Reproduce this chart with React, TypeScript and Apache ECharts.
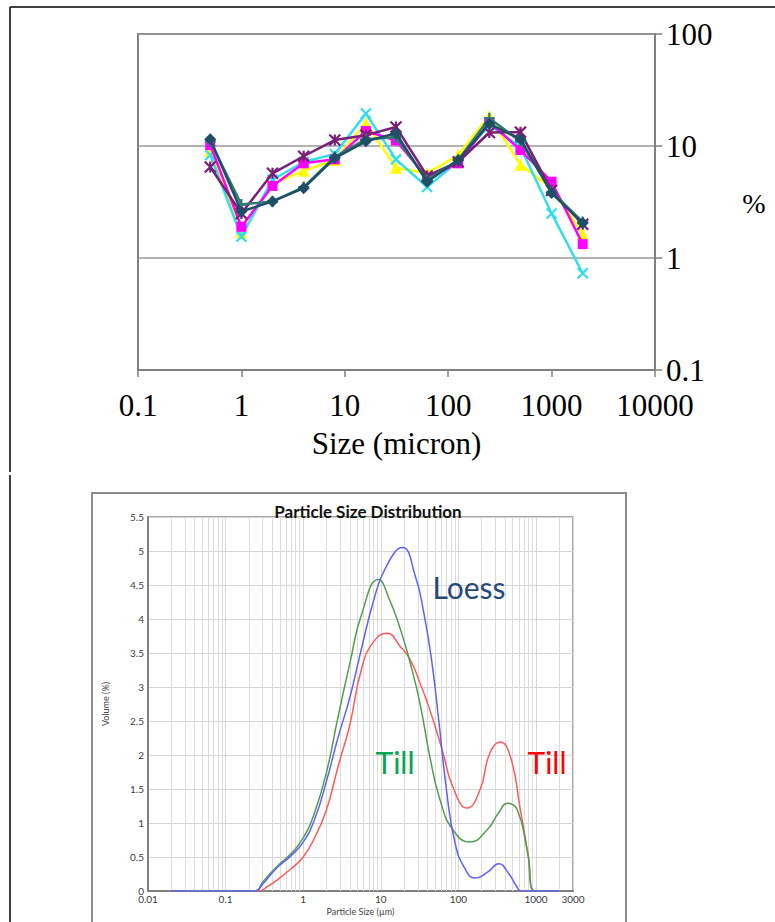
import React, { useEffect, useRef } from "react";
import * as echarts from "echarts";

// ---------- Top chart: size classes (micron) and % per class ----------
const sieveSizes = [0.5, 1, 2, 4, 8, 16, 31.25, 62.5, 125, 250, 500, 1000, 2000];
const seriesDiamond = [11.5, 2.6, 3.2, 4.2, 7.8, 11.0, 13.0, 4.8, 7.5, 15.8, 11.5, 3.8, 2.05];
const seriesPlus = [11.0, 3.0, 3.2, 4.3, 8.0, 11.5, 12.0, 5.0, 7.5, 17.7, 11.0, 3.9, 2.1];
const seriesSquare = [10.2, 1.9, 4.4, 7.0, 7.6, 13.6, 11.2, 5.2, 7.0, 16.3, 9.2, 4.8, 1.33];
const seriesTriangle = [9.0, 1.7, 4.6, 6.0, 7.5, 16.0, 6.4, 5.7, 8.3, 18.5, 6.8, 4.2, 1.64];
const seriesCross = [8.3, 1.55, 5.0, 7.2, 8.5, 19.5, 7.6, 4.3, 7.3, 15.4, 9.8, 2.5, 0.73];
const seriesStar = [6.5, 2.5, 5.7, 8.1, 11.3, 12.5, 14.8, 5.4, 7.2, 13.2, 13.3, 4.0, 2.0];

// ---------- Bottom chart: particle size distribution (volume %) ----------
const loessSizes = [0.02, 0.24, 0.3, 0.4, 0.5, 0.7, 1, 1.4, 2, 2.8, 4, 5.6, 8, 11.5, 19, 28, 36, 45, 56, 70, 90, 120, 164, 240, 330, 450, 560, 640, 1000, 2000];
const loessVolume = [0, 0, 0.1, 0.27, 0.38, 0.52, 0.72, 1.05, 1.62, 2.25, 2.85, 3.55, 4.25, 4.75, 5.05, 4.62, 4.08, 3.41, 2.5, 1.5, 0.72, 0.34, 0.19, 0.28, 0.4, 0.25, 0.07, 0, 0, 0];
const tillGreenSizes = [0.02, 0.24, 0.3, 0.4, 0.5, 0.7, 1, 1.4, 2, 2.8, 4, 5.6, 9.3, 13, 18, 24, 32, 43, 58, 85, 140, 235, 330, 430, 575, 770, 980, 2000];
const tillGreenVolume = [0, 0, 0.13, 0.29, 0.4, 0.55, 0.78, 1.15, 1.75, 2.55, 3.35, 4.05, 4.58, 4.28, 3.84, 3.35, 2.76, 1.97, 1.34, 0.9, 0.72, 0.9, 1.15, 1.29, 1.19, 0.6, 0, 0];
const tillRedSizes = [0.02, 0.27, 0.35, 0.46, 0.7, 1, 1.4, 2, 2.8, 4, 5.6, 8, 12, 18, 24, 32, 43, 62, 85, 130, 190, 255, 345, 470, 630, 800, 950, 2000];
const tillRedVolume = [0, 0, 0.07, 0.16, 0.33, 0.5, 0.78, 1.2, 1.82, 2.45, 3.25, 3.66, 3.79, 3.59, 3.4, 3.06, 2.66, 2.07, 1.53, 1.22, 1.49, 2.03, 2.19, 1.97, 1.19, 0.5, 0, 0];
const minorGridSizes = [
  0.02, 0.03, 0.04, 0.05, 0.06, 0.07, 0.08, 0.09,
  0.2, 0.3, 0.4, 0.5, 0.6, 0.7, 0.8, 0.9,
  2, 3, 4, 5, 6, 7, 8, 9,
  20, 30, 40, 50, 60, 70, 80, 90,
  200, 300, 400, 500, 600, 700, 800, 900,
  2000,
];

const fmt = (v: number) => String(Number(Number(v).toPrecision(6)));
const pairs = (xs: number[], ys: number[]) => xs.map((x, i) => [x, ys[i]]);

const SERIF = "'Liberation Serif', 'Times New Roman', serif";
const SANS = "Lato, 'Open Sans', sans-serif";

export default function App() {
  const ref = useRef<HTMLDivElement>(null);
  useEffect(() => {
    if (!ref.current) return;
    const chart = echarts.init(ref.current, null, { renderer: "svg" });

    const top = (
      name: string,
      values: number[],
      color: string,
      symbol: string,
      size: number,
      stroke: boolean,
      z: number
    ) => ({
      type: "line",
      name,
      xAxisIndex: 0,
      yAxisIndex: 0,
      data: pairs(sieveSizes, values),
      symbol,
      symbolSize: size,
      showAllSymbol: true,
      lineStyle: { color, width: 2.5 },
      itemStyle: {
        color: stroke ? "rgba(0,0,0,0)" : color,
        borderColor: color,
        borderWidth: stroke ? 2.2 : 0,
        opacity: 1,
      },
      z,
    });

    const curve = (name: string, xs: number[], ys: number[], color: string, z: number) => ({
      type: "line",
      name,
      xAxisIndex: 1,
      yAxisIndex: 1,
      data: pairs(xs, ys),
      symbol: "none",
      smooth: 0.5,
      lineStyle: { color, width: 1.5 },
      z,
    });

    chart.setOption({
      animation: false,
      backgroundColor: "#ffffff",
      title: {
        text: "Particle Size Distribution",
        left: 363,
        top: 498,
        textAlign: "center",
        textStyle: { fontFamily: SANS, fontWeight: "bold", fontSize: 17, color: "#111" },
      },
      grid: [
        { left: 138, top: 34, width: 517, height: 336, show: true, borderColor: "#808080", borderWidth: 2, backgroundColor: "transparent" },
        { left: 148, top: 517, width: 425, height: 374, show: true, borderColor: "#8a8a8a", borderWidth: 1.5, backgroundColor: "transparent" },
      ],
      xAxis: [
        {
          type: "log",
          gridIndex: 0,
          logBase: 10,
          min: 0.1,
          max: 10000,
          name: "Size (micron)",
          nameLocation: "middle",
          nameGap: 58,
          nameTextStyle: { fontFamily: SERIF, fontSize: 31, color: "#000" },
          axisLine: { show: true, lineStyle: { color: "#808080", width: 2 } },
          axisTick: { show: true, inside: false, length: 7, lineStyle: { color: "#808080", width: 1.5 } },
          axisLabel: { formatter: fmt, fontFamily: SERIF, fontSize: 31, color: "#000", margin: 20 },
          splitLine: { show: false },
        },
        {
          type: "log",
          gridIndex: 1,
          logBase: 10,
          min: 0.01,
          max: 3000,
          name: "Particle Size (µm)",
          nameLocation: "middle",
          nameGap: 16,
          nameTextStyle: { fontFamily: SANS, fontSize: 9, color: "#444" },
          axisLine: { show: true, lineStyle: { color: "#808080", width: 2 } },
          axisTick: { show: false },
          axisLabel: { formatter: fmt, fontFamily: SANS, fontSize: 10, color: "#3a3a3a", margin: 3, showMaxLabel: true, showMinLabel: true },
          splitLine: { show: true, lineStyle: { color: "#d6d6d6", width: 1 } },
        },
      ],
      yAxis: [
        {
          type: "log",
          gridIndex: 0,
          logBase: 10,
          min: 0.1,
          max: 100,
          position: "right",
          axisLine: { show: true, lineStyle: { color: "#808080", width: 2 } },
          axisTick: { show: true, inside: false, length: 7, lineStyle: { color: "#808080", width: 1.5 } },
          axisLabel: { formatter: fmt, fontFamily: SERIF, fontSize: 31, color: "#000", margin: 11 },
          splitLine: { show: true, lineStyle: { color: "#9a9a9a", width: 1.5 } },
        },
        {
          type: "value",
          gridIndex: 1,
          min: 0,
          max: 5.5,
          interval: 0.5,
          name: "Volume (%)",
          nameLocation: "middle",
          nameGap: 38,
          nameTextStyle: { fontFamily: SANS, fontSize: 9, color: "#444" },
          axisLine: { show: true, lineStyle: { color: "#808080", width: 2 } },
          axisTick: { show: false },
          axisLabel: { formatter: fmt, fontFamily: SANS, fontSize: 10, color: "#3a3a3a", margin: 4 },
          splitLine: { show: true, lineStyle: { color: "#d6d6d6", width: 1 } },
        },
      ],
      series: [
        top("Triangle", seriesTriangle, "#ffff00", "triangle", 12, false, 3),
        top("Cross", seriesCross, "#33ddee", "path://M0,0L10,10M10,0L0,10", 10, true, 4),
        top("Square", seriesSquare, "#ff00ff", "rect", 10, false, 5),
        top("Star", seriesStar, "#7a1f78", "path://M5,0L5,10M0,0L10,10M10,0L0,10", 11, true, 6),
        top("Plus", seriesPlus, "#2e7d6e", "path://M5,0L5,10M0,5L10,5", 11, true, 7),
        top("Diamond", seriesDiamond, "#1f4f66", "diamond", 12, false, 8),
        {
          type: "line",
          name: "minor grid",
          xAxisIndex: 1,
          yAxisIndex: 1,
          data: [],
          z: 1,
          silent: true,
          markLine: {
            silent: true,
            symbol: "none",
            z: 1,
            label: { show: false },
            lineStyle: { color: "#dcdcdc", width: 1, type: "solid" },
            data: minorGridSizes.map((v) => ({ xAxis: v })),
          },
        },
        curve("Till (red)", tillRedSizes, tillRedVolume, "#ff5a5a", 3),
        curve("Till (green)", tillGreenSizes, tillGreenVolume, "#4f9f4f", 4),
        curve("Loess", loessSizes, loessVolume, "#6060ff", 5),
      ],
      graphic: [
        { type: "line", shape: { x1: 10, y1: 7, x2: 775, y2: 7 }, style: { stroke: "#000", lineWidth: 1.5 } },
        { type: "line", shape: { x1: 10, y1: 7, x2: 10, y2: 472 }, style: { stroke: "#000", lineWidth: 1.5 } },
        { type: "line", shape: { x1: 10, y1: 475, x2: 10, y2: 922 }, style: { stroke: "#000", lineWidth: 1.5 } },
        { type: "rect", shape: { x: 92, y: 493, width: 534, height: 440 }, style: { fill: "none", stroke: "#8c8c8c", lineWidth: 2 } },
        { type: "text", x: 754, y: 203, style: { text: "%", font: `28px ${SERIF}`, fill: "#000", textAlign: "center", textVerticalAlign: "middle" } },
        { type: "text", x: 469, y: 587, z: 10, style: { text: "Loess", font: `30px ${SANS}`, fill: "#27497a", textAlign: "center", textVerticalAlign: "middle" } },
        { type: "text", x: 395, y: 762, z: 10, style: { text: "Till", font: `30px ${SANS}`, fill: "#00a650", textAlign: "center", textVerticalAlign: "middle" } },
        { type: "text", x: 547, y: 762, z: 10, style: { text: "Till", font: `30px ${SANS}`, fill: "#ff0000", textAlign: "center", textVerticalAlign: "middle" } },
      ],
    });

    return () => chart.dispose();
  }, []);

  return (
    <div
      ref={ref}
      style={{ position: "absolute", left: 0, top: 0, width: 775, height: 922, background: "#fff" }}
    />
  );
}
